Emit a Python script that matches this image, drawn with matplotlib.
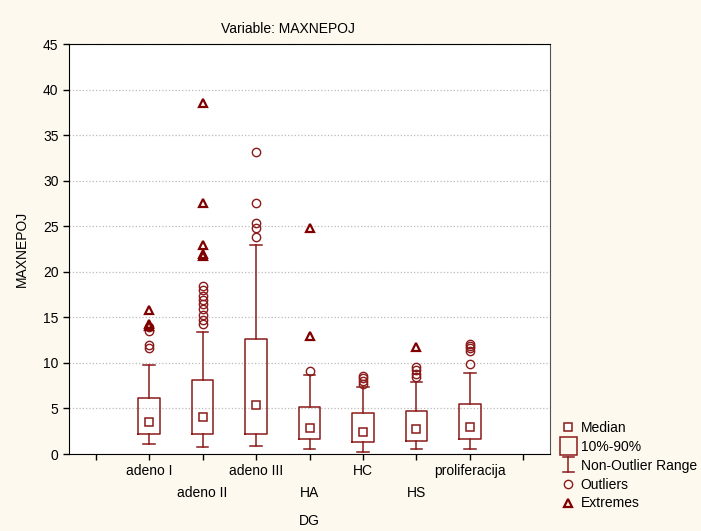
import matplotlib.pyplot as plt
from matplotlib.lines import Line2D
from matplotlib.patches import Rectangle
from matplotlib.legend_handler import HandlerBase

plt.rcParams["font.family"] = ["Liberation Sans", "DejaVu Sans"]
plt.rcParams["font.size"] = 10

# data
groups = ["adeno I", "adeno II", "adeno III", "HA", "HC", "HS", "proliferacija"]
median = [3.5, 4.1, 5.4, 2.9, 2.4, 2.75, 3.0]
p10 = [2.15, 2.25, 2.25, 1.6, 1.3, 1.45, 1.6]
p90 = [6.1, 8.1, 12.6, 5.2, 4.45, 4.75, 5.5]
wlo = [1.1, 0.8, 0.9, 0.5, 0.25, 0.5, 0.55]
whi = [9.8, 13.4, 22.9, 8.7, 7.4, 7.95, 8.85]
outliers = [
    [11.6, 12.0, 13.5, 13.9],
    [14.3, 14.7, 15.3, 15.9, 16.5, 16.9, 17.3, 18.0, 18.4],
    [23.8, 24.8, 25.3, 27.5, 33.1],
    [9.1],
    [7.7, 8.0, 8.3, 8.6],
    [8.4, 8.8, 9.2, 9.5],
    [9.9, 11.3, 11.6, 11.9, 12.1],
]
extremes = [
    [14.1, 14.3, 15.8],
    [21.7, 22.0, 22.9, 27.6, 38.5],
    [],
    [12.9, 24.8],
    [],
    [11.7],
    [],
]

red = "#8B1A1A"
dark = "#800000"

fig = plt.figure(figsize=(7.01, 5.31), dpi=100, facecolor="#FDF9EF")
ax = fig.add_axes([69 / 701, 77 / 531, 481 / 701, 410 / 531])
ax.set_facecolor("white")

pos = list(range(1, len(groups) + 1))
stats = []
for i, g in enumerate(groups):
    stats.append(dict(label=g, med=median[i], q1=p10[i], q3=p90[i],
                      whislo=wlo[i], whishi=whi[i], fliers=[]))

ax.bxp(stats, positions=pos, widths=0.4, showfliers=False, manage_ticks=False,
       boxprops=dict(color=red, linewidth=1.1),
       whiskerprops=dict(color=red, linewidth=1.1),
       capprops=dict(color=red, linewidth=1.1),
       medianprops=dict(linewidth=0), capwidths=0.22)

ax.plot(pos, median, ls="none", marker="s", ms=6, mfc="white", mec=red, mew=1.1)
for i in range(len(groups)):
    if outliers[i]:
        ax.plot([pos[i]] * len(outliers[i]), outliers[i], ls="none", marker="o",
                ms=6, mfc="none", mec=red, mew=1.0)
    if extremes[i]:
        ax.plot([pos[i]] * len(extremes[i]), extremes[i], ls="none", marker="^",
                ms=6, mfc="none", mec=dark, mew=1.6)

ax.set_xlim(-0.5, 8.5)
ax.set_ylim(0, 45)
ax.set_yticks(range(0, 46, 5))
ax.set_xticks(range(0, 9))
labels = [""] + [g if i % 2 == 0 else "\n" + g for i, g in enumerate(groups)] + [""]
ax.set_xticklabels(labels, linespacing=1.7)
ax.tick_params(direction="out", length=4, width=1, colors="black", labelsize=10)
ax.grid(axis="y", color="#BBBBBB", linestyle=":", linewidth=0.9)
ax.set_axisbelow(True)
for s in ["left", "bottom", "top"]:
    ax.spines[s].set_color("black")
ax.spines["right"].set_color("#555555")

ax.set_xlabel("DG", labelpad=10)
ax.set_ylabel("MAXNEPOJ", labelpad=10)
fig.text(288 / 701, 1 - 29 / 531, "Variable: MAXNEPOJ", ha="center", va="center")


class RangeHandler(HandlerBase):
    def create_artists(self, legend, orig, xd, yd, w, h, fs, trans):
        cx = xd + w / 2
        a = Line2D([cx, cx], [yd - 2, yd + h + 2], color=red, lw=1.1, transform=trans)
        b = Line2D([cx - 4, cx + 4], [yd + h + 2] * 2, color=red, lw=1.1, transform=trans)
        c = Line2D([cx - 4, cx + 4], [yd - 2] * 2, color=red, lw=1.1, transform=trans)
        return [a, b, c]


class BoxHandler(HandlerBase):
    def create_artists(self, legend, orig, xd, yd, w, h, fs, trans):
        cx = xd + w / 2
        r = Rectangle((cx - 6, yd - 3), 12, h + 6, fc="none", ec=red, lw=1.1, transform=trans)
        return [r]


h_med = Line2D([], [], ls="none", marker="s", ms=6, mfc="white", mec=red, mew=1.1)
h_box = Rectangle((0, 0), 1, 1)
h_rng = Line2D([], [])
h_out = Line2D([], [], ls="none", marker="o", ms=6, mfc="none", mec=red, mew=1.0)
h_ext = Line2D([], [], ls="none", marker="^", ms=6, mfc="none", mec=dark, mew=1.6)

fig.legend([h_med, h_box, h_rng, h_out, h_ext],
           ["Median", "10%-90%", "Non-Outlier Range", "Outliers", "Extremes"],
           handler_map={h_box: BoxHandler(), h_rng: RangeHandler()},
           loc="upper left", bbox_to_anchor=(553 / 701, 1 - 414 / 531),
           frameon=False, handlelength=1.2, handletextpad=0.3, labelspacing=0.35,
           borderpad=0, fontsize=10)

fig.savefig("out.png", dpi=100, facecolor=fig.get_facecolor())
